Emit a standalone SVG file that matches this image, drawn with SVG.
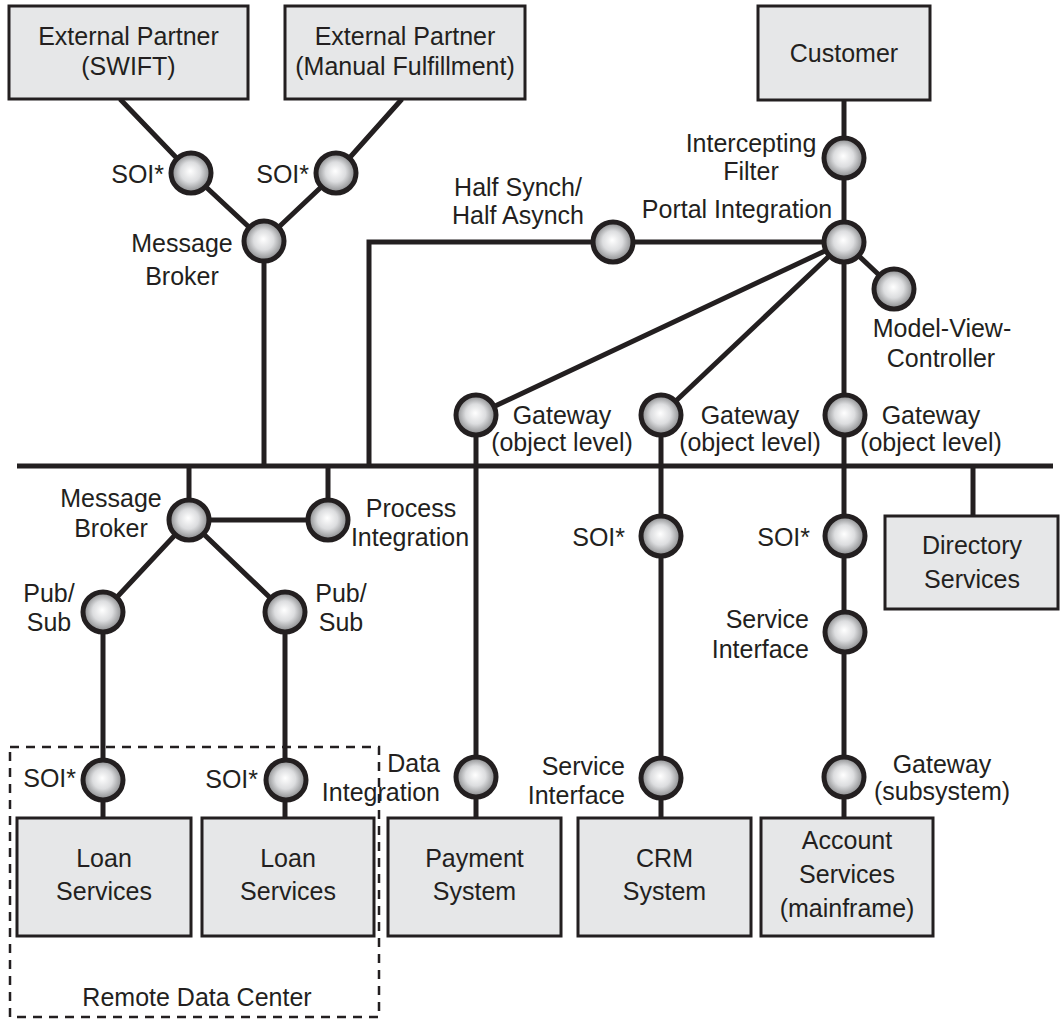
<svg xmlns="http://www.w3.org/2000/svg" width="1061" height="1020" viewBox="0 0 1061 1020">
<defs>
<radialGradient id="ball" cx="50%" cy="50%" r="50%" fx="48%" fy="45%">
<stop offset="0" stop-color="#ffffff"/>
<stop offset="0.5" stop-color="#dcdddf"/>
<stop offset="1" stop-color="#838486"/>
</radialGradient>
</defs>
<style>
.box{fill:#e6e7e8;stroke:#231f20;stroke-width:3}
.ln{fill:none;stroke:#231f20;stroke-width:5}
.ball{fill:url(#ball);stroke:#231f20;stroke-width:5}
.dash{fill:none;stroke:#231f20;stroke-width:2.5;stroke-dasharray:9 7}
text{font-family:"Liberation Sans",Arial,Helvetica,sans-serif;font-size:25px;fill:#231f20}
.m{text-anchor:middle}
.e{text-anchor:end}
</style>
<rect x="0" y="0" width="1061" height="1020" fill="#ffffff"/>

<g id="connectors">
<line class="ln" x1="17" y1="466" x2="1053" y2="466"/>
<polyline class="ln" points="120,99 191,173 264,241"/>
<polyline class="ln" points="402,99 336,173 264,241"/>
<line class="ln" x1="264" y1="241" x2="264" y2="466"/>
<line class="ln" x1="844" y1="100" x2="844" y2="242"/>
<polyline class="ln" points="844,242 369,242 369,466"/>
<line class="ln" x1="844" y1="242" x2="894" y2="289"/>
<line class="ln" x1="844" y1="242" x2="476" y2="415"/>
<line class="ln" x1="844" y1="242" x2="661" y2="415"/>
<line class="ln" x1="844" y1="242" x2="844" y2="818"/>
<line class="ln" x1="476" y1="415" x2="476" y2="818"/>
<line class="ln" x1="661" y1="415" x2="661" y2="818"/>
<line class="ln" x1="973" y1="466" x2="973" y2="516"/>
<polyline class="ln" points="189,466 189,520 328,520 328,466"/>
<polyline class="ln" points="103,818 103,612 189,520 285,612 285,818"/>
</g>

<g id="remote-data-center">
<rect class="dash" x="10" y="747" width="369" height="270"/>
<text class="m" x="197" y="1006">Remote Data Center</text>
</g>

<g id="swift">
<rect class="box" x="9" y="6" width="239" height="93"/>
<text class="m" x="128.5" y="45">External Partner</text>
<text class="m" x="128.5" y="75">(SWIFT)</text>
</g>
<g id="manual">
<rect class="box" x="285" y="6" width="240" height="93"/>
<text class="m" x="405" y="45">External Partner</text>
<text class="m" x="405" y="75">(Manual Fulfillment)</text>
</g>
<g id="customer">
<rect class="box" x="758" y="6" width="172" height="94"/>
<text class="m" x="844" y="62">Customer</text>
</g>
<g id="directory">
<rect class="box" x="885" y="516" width="173" height="93"/>
<text class="m" x="972" y="554">Directory</text>
<text class="m" x="972" y="588">Services</text>
</g>
<g id="loan1">
<rect class="box" x="17" y="818" width="174" height="118"/>
<text class="m" x="104" y="867">Loan</text>
<text class="m" x="104" y="900">Services</text>
</g>
<g id="loan2">
<rect class="box" x="202" y="818" width="172" height="118"/>
<text class="m" x="288" y="867">Loan</text>
<text class="m" x="288" y="900">Services</text>
</g>
<g id="payment">
<rect class="box" x="388" y="818" width="173" height="118"/>
<text class="m" x="474.5" y="867">Payment</text>
<text class="m" x="474.5" y="900">System</text>
</g>
<g id="crm">
<rect class="box" x="578" y="818" width="173" height="118"/>
<text class="m" x="664.5" y="867">CRM</text>
<text class="m" x="664.5" y="900">System</text>
</g>
<g id="account">
<rect class="box" x="761" y="818" width="172" height="118"/>
<text class="m" x="847" y="849">Account</text>
<text class="m" x="847" y="883">Services</text>
<text class="m" x="847" y="917">(mainframe)</text>
</g>

<g id="soi-swift">
<circle class="ball" cx="191" cy="173" r="20"/>
<text class="e" x="164" y="183">SOI*</text>
</g>
<g id="soi-manual">
<circle class="ball" cx="336" cy="173" r="20"/>
<text class="e" x="309" y="183">SOI*</text>
</g>
<g id="message-broker-top">
<circle class="ball" cx="264" cy="241" r="20"/>
<text class="m" x="182" y="252">Message</text>
<text class="m" x="182" y="285">Broker</text>
</g>
<g id="intercepting-filter">
<circle class="ball" cx="844" cy="158" r="20"/>
<text class="m" x="751" y="152">Intercepting</text>
<text class="m" x="751" y="180">Filter</text>
</g>
<g id="portal-integration">
<circle class="ball" cx="844" cy="242" r="20"/>
<text class="m" x="737" y="218">Portal Integration</text>
</g>
<g id="half-synch">
<circle class="ball" cx="613" cy="242" r="20"/>
<text class="m" x="518" y="196">Half Synch/</text>
<text class="m" x="518" y="224">Half Asynch</text>
</g>
<g id="mvc">
<circle class="ball" cx="894" cy="289" r="20"/>
<text class="m" x="942" y="337">Model-View-</text>
<text class="m" x="941" y="367">Controller</text>
</g>
<g id="gateway-1">
<circle class="ball" cx="476" cy="415" r="20"/>
<text class="m" x="562" y="424">Gateway</text>
<text class="m" x="562" y="451">(object level)</text>
</g>
<g id="gateway-2">
<circle class="ball" cx="661" cy="415" r="20"/>
<text class="m" x="750" y="424">Gateway</text>
<text class="m" x="750" y="451">(object level)</text>
</g>
<g id="gateway-3">
<circle class="ball" cx="845" cy="415" r="20"/>
<text class="m" x="931" y="424">Gateway</text>
<text class="m" x="931" y="451">(object level)</text>
</g>
<g id="message-broker-bottom">
<circle class="ball" cx="189" cy="520" r="20"/>
<text class="m" x="111" y="507">Message</text>
<text class="m" x="111" y="537">Broker</text>
</g>
<g id="process-integration">
<circle class="ball" cx="328" cy="520" r="20"/>
<text class="m" x="411" y="517">Process</text>
<text class="m" x="410" y="546">Integration</text>
</g>
<g id="pubsub-left">
<circle class="ball" cx="103" cy="612" r="20"/>
<text class="m" x="49" y="602">Pub/</text>
<text class="m" x="49" y="631">Sub</text>
</g>
<g id="pubsub-right">
<circle class="ball" cx="285" cy="612" r="20"/>
<text class="m" x="341" y="602">Pub/</text>
<text class="m" x="341" y="631">Sub</text>
</g>
<g id="soi-crm">
<circle class="ball" cx="661" cy="536" r="20"/>
<text class="e" x="625" y="546">SOI*</text>
</g>
<g id="soi-account">
<circle class="ball" cx="845" cy="536" r="20"/>
<text class="e" x="810" y="546">SOI*</text>
</g>
<g id="service-interface-account">
<circle class="ball" cx="845" cy="632" r="20"/>
<text class="e" x="809" y="628">Service</text>
<text class="e" x="809" y="658">Interface</text>
</g>
<g id="soi-loan1">
<circle class="ball" cx="103" cy="780" r="20"/>
<text class="e" x="76" y="787">SOI*</text>
</g>
<g id="soi-loan2">
<circle class="ball" cx="286" cy="780" r="20"/>
<text class="e" x="258" y="788">SOI*</text>
</g>
<g id="data-integration">
<circle class="ball" cx="476" cy="777" r="20"/>
<text class="e" x="440" y="772">Data</text>
<text class="e" x="440" y="801">Integration</text>
</g>
<g id="service-interface-crm">
<circle class="ball" cx="661" cy="778" r="20"/>
<text class="e" x="625" y="775">Service</text>
<text class="e" x="625" y="804">Interface</text>
</g>
<g id="gateway-subsystem">
<circle class="ball" cx="844" cy="777" r="20"/>
<text class="m" x="942" y="773">Gateway</text>
<text class="m" x="942" y="800">(subsystem)</text>
</g>
</svg>
